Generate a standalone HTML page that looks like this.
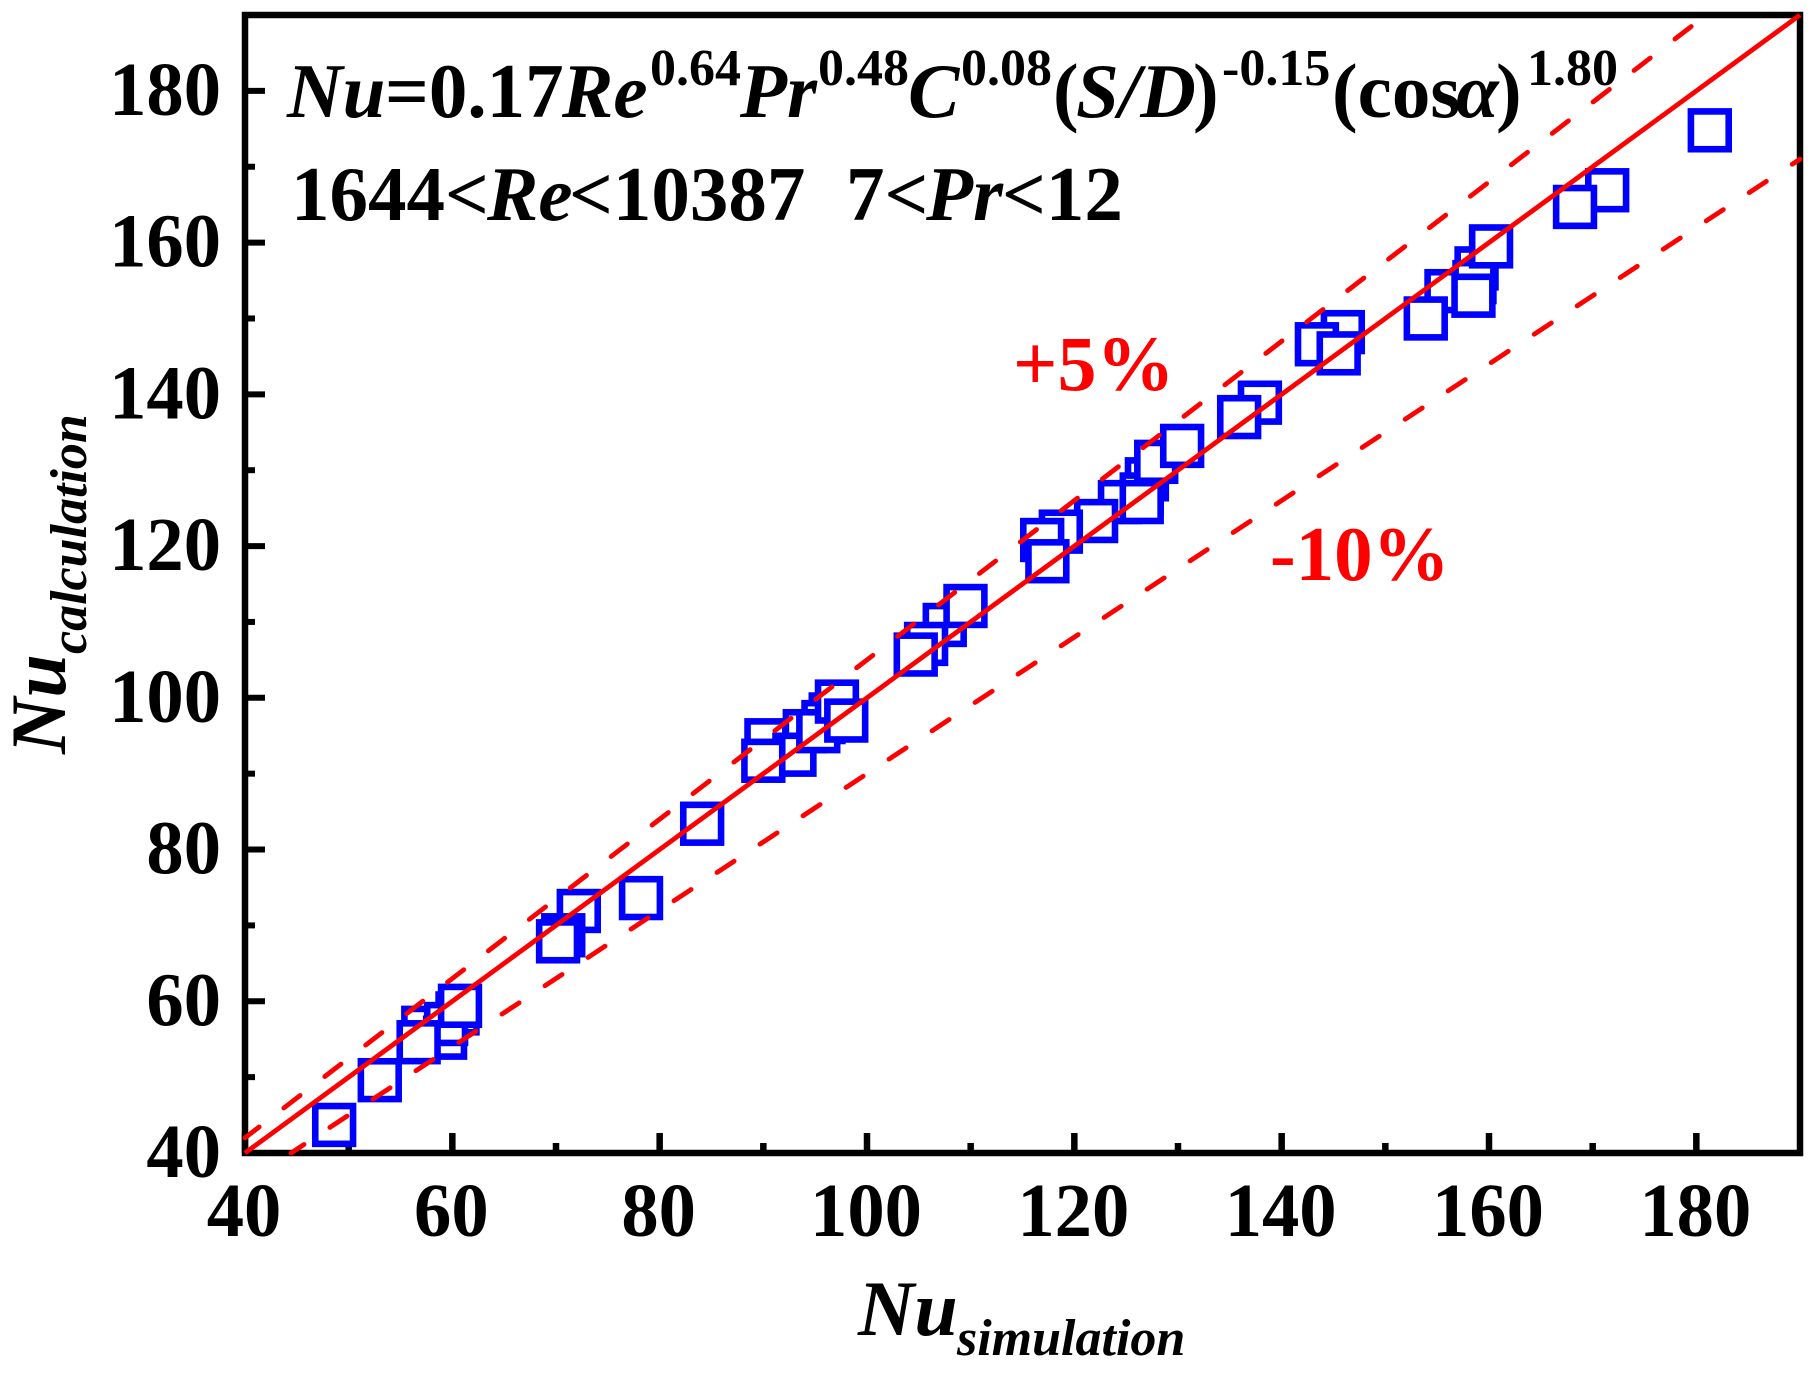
<!DOCTYPE html>
<html lang="en">
<head>
<meta charset="utf-8">
<title>Nu calculation vs simulation</title>
<style>
html,body{margin:0;padding:0;background:#fff;width:1815px;height:1375px;overflow:hidden}
svg{display:block}
text{font-family:"Liberation Serif","Times New Roman",serif;font-weight:bold;fill:#000}
.it{font-style:italic}
.sup{font-size:52px}
.red{fill:#ff0000}
</style>
</head>
<body>
<svg id="chart" xmlns="http://www.w3.org/2000/svg" width="1815" height="1375" viewBox="0 0 1815 1375">
  <rect x="0" y="0" width="1815" height="1375" fill="#fff"/>
  <g id="axes"></g>
  <g id="points"></g>
  <g id="lines"></g>

  <text y="117" font-size="77"><tspan class="it" x="287">Nu</tspan><tspan x="385">=0.17</tspan><tspan class="it" x="562">Re</tspan><tspan class="sup" x="650" y="85">0.64</tspan><tspan class="it" x="740" y="117">Pr</tspan><tspan class="sup" x="818" y="85">0.48</tspan><tspan class="it" x="908" y="117">C</tspan><tspan class="sup" x="961" y="85">0.08</tspan><tspan x="1053" y="117">(</tspan><tspan class="it" x="1076">S/D</tspan><tspan x="1193">)</tspan><tspan class="sup" x="1222" y="85">-0.15</tspan><tspan x="1332" y="117">(cos</tspan><tspan class="it" x="1456">α</tspan><tspan x="1496">)</tspan><tspan class="sup" x="1527" y="85">1.80</tspan></text>
  <text y="220" font-size="77"><tspan x="291">1644&lt;</tspan><tspan class="it" x="487">Re</tspan><tspan x="569">&lt;10387</tspan><tspan x="846">7&lt;</tspan><tspan class="it" x="926">Pr</tspan><tspan x="1002">&lt;12</tspan></text>

  <text class="red" x="1013" y="390" font-size="78">+5%</text>
  <text class="red" x="1270" y="580" font-size="77">-10%</text>

  <text y="1335"><tspan class="it" x="858" font-size="78">Nu</tspan><tspan class="it" x="957" y="1355" font-size="52">simulation</tspan></text>
  <text transform="translate(65,754) rotate(-90)"><tspan class="it" x="0" y="0" font-size="78">Nu</tspan><tspan class="it" x="100" y="21" font-size="52">calculation</tspan></text>
</svg>
<script>
const simulationValues = [48.6,53,60.5,57.2,59.3,59.4,56.75,60.74,72.2,70.7,70.2,78.2,84.1,90.3,96.5,95.8,94,93,95.3,97.1,98,90,107.5,109.5,105.7,104.7,124.4,122.1,118.7,116.9,117.4,127,126.5,127.9,126.5,130.4,137.9,135.9,145.9,143.4,145.5,155.9,158.8,158.6,158.5,153.9,160.2,171.4,168.3,181.3];
const calculationValues = [43.7,49.6,58.4,56.5,55.2,57,54.6,59.4,71.9,68.7,67.9,73.6,83.4,94.4,97.8,96.8,95.6,92.5,95.6,99.5,97,91.7,109.6,112.1,107.1,105.7,125.8,123.3,121.9,120.8,118,128.8,126.8,131.1,125.8,133.2,138.9,137,148.2,146.6,145.4,153.6,156.6,154.8,153,150,159.5,166.9,164.7,174.8];
const xTickLabels = [40,60,80,100,120,140,160,180];
const yTickLabels = [40,60,80,100,120,140,160,180];
const xMinorTicks = [50,70,90,110,130,150,170];
const yMinorTicks = [50,70,90,110,130,150,170];
const axisRange = [40,190];
const fitRatio = [1];
const upperBoundRatio = [1.05];
const lowerBoundRatio = [0.9];

const NS = 'http://www.w3.org/2000/svg';
const plotLeft = 245, plotRight = 1800, plotTop = 15, plotBottom = 1153;
function xScale(v){ return plotLeft + (v-axisRange[0])*(plotRight-plotLeft)/(axisRange[1]-axisRange[0]); }
function yScale(v){ return plotBottom - (v-axisRange[0])*(plotBottom-plotTop)/(axisRange[1]-axisRange[0]); }
function make(tag, attrs, parent){
  const el = document.createElementNS(NS, tag);
  for (const k in attrs) el.setAttribute(k, attrs[k]);
  parent.appendChild(el);
  return el;
}
const axes = document.getElementById('axes');
const points = document.getElementById('points');
const lines = document.getElementById('lines');

xTickLabels.forEach(function(v){
  const t = make('line',{x1:xScale(v),x2:xScale(v),y1:plotBottom,y2:plotBottom-20,stroke:'#000','stroke-width':6.5},axes);
  
  
  const l = make('text',{x:xScale(v)-1,y:1236,'text-anchor':'middle','font-size':76,textLength:String(v).length*37.3,lengthAdjust:'spacingAndGlyphs'},axes);
  
  
  l.textContent = v;
});
xMinorTicks.forEach(function(v){
  const t = make('line',{x1:xScale(v),x2:xScale(v),y1:plotBottom,y2:plotBottom-10,stroke:'#000','stroke-width':6.5},axes);
  
  
});
yTickLabels.forEach(function(v){
  const t = make('line',{x1:plotLeft,x2:plotLeft+20,y1:yScale(v),y2:yScale(v),stroke:'#000','stroke-width':6},axes);
  
  
  const l = make('text',{x:221,y:yScale(v)+24,'text-anchor':'end','font-size':76,textLength:String(v).length*37.3,lengthAdjust:'spacingAndGlyphs'},axes);
  
  
  l.textContent = v;
});
yMinorTicks.forEach(function(v){
  const t = make('line',{x1:plotLeft,x2:plotLeft+10,y1:yScale(v),y2:yScale(v),stroke:'#000','stroke-width':6},axes);
  
  
});
const frame = make('rect',{x:plotLeft,y:plotTop,width:plotRight-plotLeft,height:plotBottom-plotTop,fill:'none',stroke:'#000','stroke-width':6.5},axes);



simulationValues.forEach(function(v,i){
  const r = make('rect',{x:xScale(v)-18.9,y:yScale(calculationValues[i])-18.9,width:37.8,height:37.8,fill:'#fff',stroke:'#0000ff','stroke-width':6.6},points);
  
  
});

function ratioLine(ratio, dash, offset){
  const x1 = Math.max(axisRange[0], axisRange[0]/ratio);
  const x2 = Math.min(axisRange[1], axisRange[1]/ratio);
  const attrs = {x1:xScale(x1),y1:yScale(x1*ratio),x2:xScale(x2),y2:yScale(x2*ratio),stroke:'#ff0000','stroke-width':4.8};
  if (dash) { attrs['stroke-dasharray'] = dash; attrs['stroke-dashoffset'] = offset; attrs['stroke-linecap'] = 'round'; }
  return make('line',attrs,lines);
}
const fitLine = ratioLine(fitRatio[0]);


const upperLine = ratioLine(upperBoundRatio[0],'20.5 31.1',2.65);


const lowerLine = ratioLine(lowerBoundRatio[0],'20.5 31',5);


</script>
</body>
</html>
